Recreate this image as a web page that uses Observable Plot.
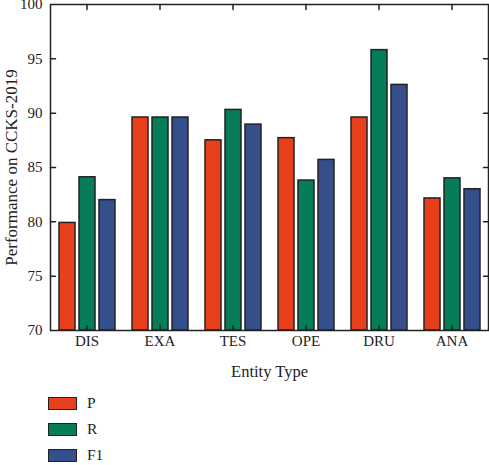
<!DOCTYPE html>
<html><head><meta charset="utf-8">
<script src="https://cdn.jsdelivr.net/npm/d3@7"></script>
<script src="https://cdn.jsdelivr.net/npm/@observablehq/plot@0.6"></script>
<style>
body{margin:0;background:#fff;font-family:"Liberation Serif",serif;color:#222}
#legend{margin-left:48px;margin-top:5px}
.item{display:flex;align-items:center;height:26px;font-size:15.5px}
.sw{width:27px;height:11px;border:1.5px solid #222;margin-right:10px}
</style></head><body><div id="chart"></div><div id="legend"></div>
<script>
const entities = ["DIS","EXA","TES","OPE","DRU","ANA"];
const seriesNames = ["P","R","F1"];
const P = [79.9, 89.6, 87.5, 87.7, 89.6, 82.15];
const R = [84.1, 89.6, 90.3, 83.8, 95.8, 84.0];
const F1 = [82.0, 89.6, 88.95, 85.7, 92.6, 83.0];
const colors = ["#E8401C","#057D58","#344F8C"];
const yTicks = [70,75,80,85,90,95,100];
const innerTicks = [75,80,85,90,95];

const seriesVals = {P, R, F1};
const data = entities.flatMap((e,i)=>seriesNames.map(s=>({entity:e, series:s, value:seriesVals[s][i]})));
const tickShape = {draw(ctx, l){ctx.moveTo(0,0); ctx.lineTo(0,-l);}};
const ink = "#222";

const chart = Plot.plot({
  width:489, height:385, marginLeft:49, marginRight:1, marginTop:4, marginBottom:55,
  style:{fontFamily:"'Liberation Serif', serif", fontSize:"15px", color:ink, background:"#fff"},
  fx:{domain:entities, padding:0},
  x:{domain:seriesNames, paddingInner:0.2, paddingOuter:0.38, axis:null},
  y:{domain:[70,100]},
  color:{domain:seriesNames, range:colors},
  marks:[
    Plot.barY(data,{fx:"entity", x:"series", y1:70, y2:"value", fill:"series", stroke:ink, strokeWidth:1.5}),
    Plot.vector(entities,{fx:d=>d, frameAnchor:"bottom", anchor:"start", rotate:0, length:5, shape:tickShape, stroke:ink, strokeWidth:1.5}),
    Plot.vector(entities,{fx:d=>d, frameAnchor:"top", anchor:"start", rotate:180, length:5, shape:tickShape, stroke:ink, strokeWidth:1.5}),
    Plot.vector(innerTicks,{fx:()=>entities[0], y:d=>d, frameAnchor:"left", anchor:"start", rotate:90, length:5, shape:tickShape, stroke:ink, strokeWidth:1.5}),
    Plot.vector(innerTicks,{fx:()=>entities[entities.length-1], y:d=>d, frameAnchor:"right", anchor:"start", rotate:-90, length:5, shape:tickShape, stroke:ink, strokeWidth:1.5}),
    Plot.axisFx({anchor:"bottom", tickSize:0, tickPadding:5, label:null, fontSize:15}),
    Plot.axisFx({anchor:"bottom", tickSize:0, ticks:[], label:"Entity Type", labelAnchor:"center", labelOffset:46, fontSize:16.5}),
    Plot.axisY({ticks:yTicks, tickSize:0, tickPadding:8, label:null, fontSize:15}),
    Plot.axisY({ticks:[], tickSize:0, label:"Performance on CCKS-2019", labelAnchor:"center", labelArrow:"none", labelOffset:46, fontSize:17}),
    Plot.frame({facet:"super", stroke:ink, strokeWidth:1.5})
  ]
});
document.getElementById("chart").appendChild(chart);

const legend = document.getElementById("legend");
seriesNames.forEach((s,i)=>{
  const it = document.createElement("div"); it.className="item";
  const sw = document.createElement("div"); sw.className="sw"; sw.style.background=colors[i];
  const lb = document.createElement("span"); lb.textContent=s;
  it.appendChild(sw); it.appendChild(lb); legend.appendChild(it);
});
</script></body></html>
